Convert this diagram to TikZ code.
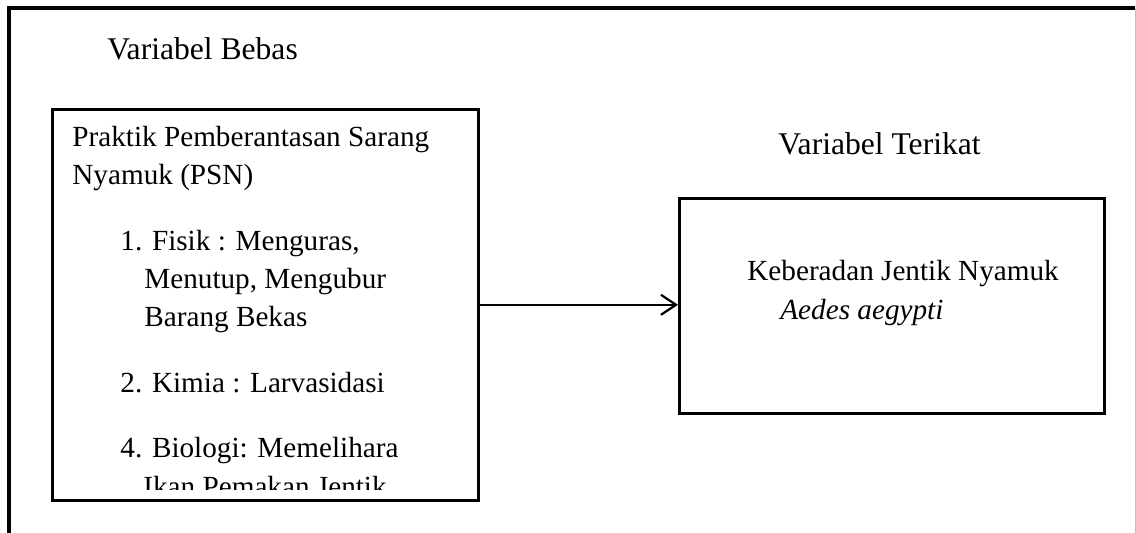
\documentclass[tikz,border=0pt]{standalone}
\usepackage{fontspec}
\setmainfont{Liberation Serif}
\usetikzlibrary{arrows.meta}

\begin{document}
\begin{tikzpicture}[x=0.5pt,y=-0.5pt,
  judul/.style={font=\fontsize{15.8}{19}\selectfont, inner sep=0pt, anchor=base west},
  isi/.style={font=\fontsize{14.6}{19}\selectfont, inner sep=0pt, anchor=base west},
  kotak/.style={draw, line width=1.3pt, inner sep=0pt, anchor=north west},
  panah/.style={line width=1.1pt, -{Straight Barb[length=7.5pt, width=10pt, line width=1.1pt]}}]

\useasboundingbox (0,0) rectangle (1136,533);

% Bingkai luar (tanpa garis bawah)
\draw[line width=1.6pt] (9,533) -- (9,8) -- (1135,8);
\draw[gray!50, line width=0.5pt] (1135,8) -- (1135,533);

% Judul variabel
\node[judul] (lblBebas) at (107,60) {Variabel Bebas};
\node[judul] (lblTerikat) at (778,155) {Variabel Terikat};

% Kotak variabel bebas
\node[kotak, minimum width=213pt, minimum height=195.5pt] (bebas) at (51,108) {};

% Isi kotak bebas, terpotong di bawah
\begin{scope}
  \clip (51,108) rectangle (477,490);
  \node[isi] (psn1) at (72,147) {Praktik Pemberantasan Sarang};
  \node[isi] (psn2) at (72,185) {Nyamuk (PSN)};
  \node[isi] (fisik1) at (120,251) {1. Fisik : Menguras,};
  \node[isi] (fisik2) at (144,289) {Menutup, Mengubur};
  \node[isi] (fisik3) at (144,327) {Barang Bekas};
  \node[isi] (kimia) at (120,393) {2. Kimia : Larvasidasi};
  \node[isi] (bio1) at (120,458) {4. Biologi: Memelihara};
  \node[isi] (bio2) at (143,497) {Ikan Pemakan Jentik};
\end{scope}

% Kotak variabel terikat
\node[kotak, minimum width=212.5pt, minimum height=107.5pt] (terikat) at (678,197) {};
\node[isi] (jentik) at (747,281) {Keberadan Jentik Nyamuk};
\node[isi] (aedes) at (780,320) {\itshape Aedes aegypti};

% Panah
\draw[panah] (bebas.east) -- (terikat.west |- bebas.east);

\end{tikzpicture}
\end{document}
